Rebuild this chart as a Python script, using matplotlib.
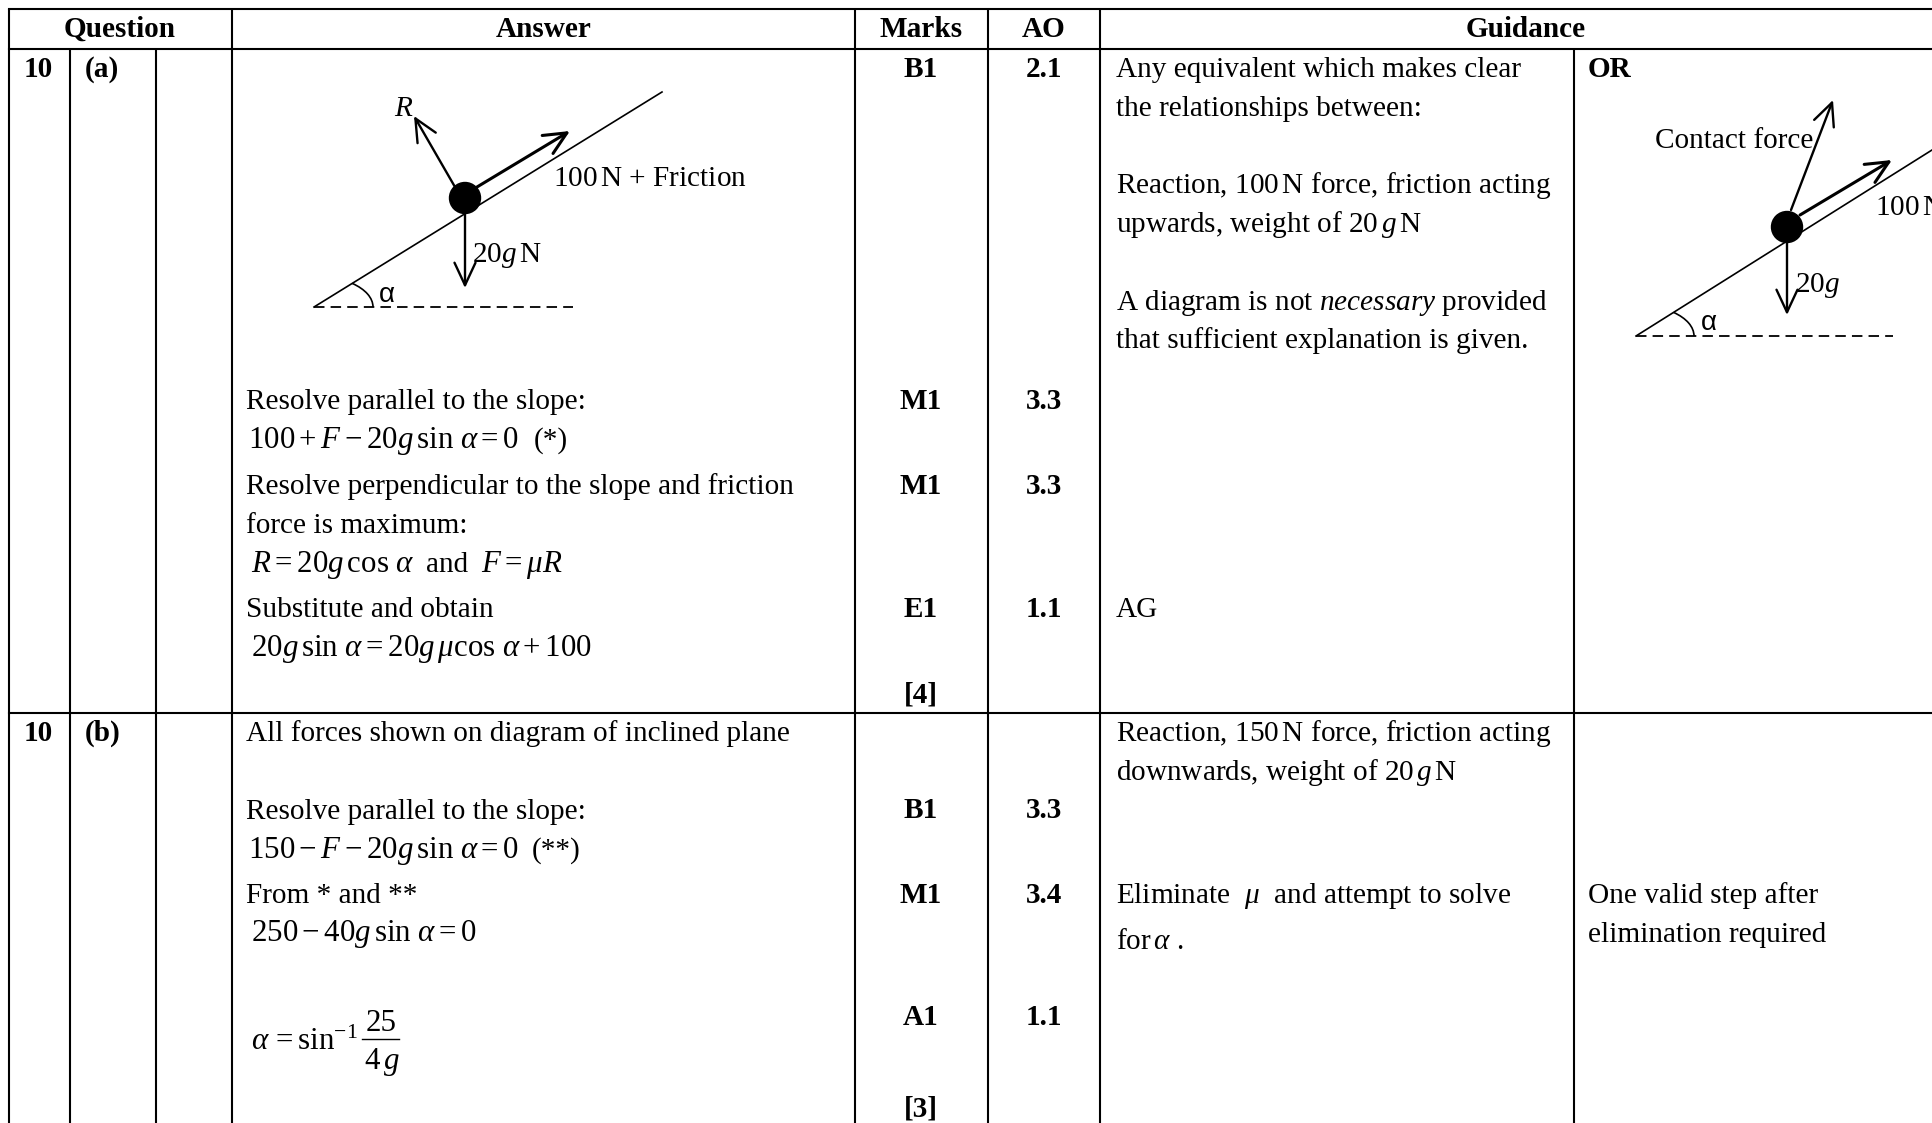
import numpy as np
import matplotlib
matplotlib.use("Agg")
import matplotlib.pyplot as plt
from matplotlib.patches import Arc, Circle

plt.rcParams['font.family'] = ['Liberation Serif', 'DejaVu Serif']
plt.rcParams['mathtext.fontset'] = 'custom'
plt.rcParams['mathtext.rm'] = 'Liberation Serif'
plt.rcParams['mathtext.it'] = 'Liberation Serif:italic'
plt.rcParams['mathtext.bf'] = 'Liberation Serif:bold'
plt.rcParams['mathtext.fallback'] = 'stix'

# table text
headers = ['Question', 'Answer', 'Marks', 'AO', 'Guidance']
question = ['10', '10']
parts = ['(a)', '(b)']
marks = ['B1', 'M1', 'M1', 'E1', '[4]', 'B1', 'M1', 'A1', '[3]']
ao = ['2.1', '3.3', '3.3', '1.1', '3.3', '3.4', '1.1']

answer_lines = [
    'Resolve parallel to the slope:',
    '(*)',
    'Resolve perpendicular to the slope and friction',
    'force is maximum:',
    'and',
    'Substitute and obtain',
    'All forces shown on diagram of inclined plane',
    'Resolve parallel to the slope:',
    '(**)',
    'From * and **',
]
answer_math = [
    r'$100+F-20g\,\sin\,\alpha=0$',
    r'$R=20g\,\cos\,\alpha$',
    r'$F=\mu R$',
    r'$20g\,\sin\,\alpha=20g\,\mu\cos\,\alpha+100$',
    r'$150-F-20g\,\sin\,\alpha=0$',
    r'$250-40g\,\sin\,\alpha=0$',
    r'$\alpha\,=\sin^{-1}$',
    '25',
    r'$4\,g$',
]
guidance_lines = [
    'Any equivalent which makes clear',
    'the relationships between:',
    r'Reaction, 100$\,$N force, friction acting',
    r'upwards, weight of 20$\,g\,$N',
    r'A diagram is not $\mathit{necessary}$ provided',
    'that sufficient explanation is given.',
    'AG',
    r'Reaction, 150$\,$N force, friction acting',
    r'downwards, weight of 20$\,g\,$N',
    r'Eliminate  $\mu$  and attempt to solve',
    r'for$\,\alpha$ .',
]
extra_lines = ['One valid step after', 'elimination required']

# layout in pixels of the 1932x1123 page
col_x = [9, 70, 156, 232, 855, 988, 1100, 1574]
row_y = [9, 49, 713]
header_x = [120, 544, 921, 1044, 1526]
q_y = [77, 741]
marks_y = [77, 409, 494, 617, 702, 818, 903, 1025, 1116]
ao_y = [77, 409, 494, 617, 818, 903, 1025]
answer_x = [246, 534, 246, 246, 426, 246, 246, 246, 532, 246]
answer_y = [409, 448, 494, 533, 572, 617, 741, 819, 858, 903]
math_x = [248, 251, 481, 251, 248, 251, 251, 366, 364]
math_y = [448, 572, 572, 656, 858, 941, 1050, 1031, 1069]
guidance_y = [77, 116, 193, 232, 310, 348, 617, 741, 780, 903, 949]
extra_y = [903, 942]

FS = 21.1
MATH_FS = 22.3

fig = plt.figure(figsize=(19.32, 11.23), dpi=100)
ax = fig.add_axes([0, 0, 1, 1])
ax.set_xlim(0, 1932)
ax.set_ylim(1123, 0)
ax.axis('off')


def txt(x, y, s, **kw):
    kw.setdefault('fontsize', FS)
    kw.setdefault('va', 'baseline')
    ax.text(x, y, s, color='black', **kw)


def arrow(p0, p1, lw=1.7):
    ax.annotate('', xy=p1, xytext=p0,
                arrowprops=dict(arrowstyle='->,head_length=0.9,head_width=0.42',
                                mutation_scale=18, lw=lw, color='black',
                                shrinkA=0, shrinkB=0))


def incline(base, top, dash_end, disk, normal_end, along, weight, arc_r):
    ax.plot([base[0], top[0]], [base[1], top[1]], color='black', lw=1.2)
    ax.plot([base[0], dash_end], [base[1], base[1]], color='black', lw=1.3, dashes=(5.8, 3.4))
    ax.add_patch(Circle(disk, 15.5, color='black', zorder=3))
    arrow(normal_end[0], normal_end[1])
    arrow(along[0], along[1], lw=2.2)
    arrow((disk[0], disk[1] + 15), (disk[0], weight))
    angle = np.degrees(np.arctan2(base[1] - top[1], top[0] - base[0]))
    ax.add_patch(Arc(base, 2 * arc_r, 62, theta1=-angle, theta2=0, color='black', lw=1.2))


# table rules
for y in row_y:
    ax.plot([col_x[0], 1932], [y, y], color='black', lw=1.5, solid_capstyle='projecting')
for x in col_x:
    start = row_y[1] if x in (70, 156, 1574) else row_y[0]
    ax.plot([x, x], [start, 1123], color='black', lw=1.5, solid_capstyle='butt')

for x, s in zip(header_x, headers):
    txt(x, 37, s, ha='center', fontweight='bold')
for y, q, p in zip(q_y, question, parts):
    txt(38, y, q, ha='center', fontweight='bold')
    txt(85, y, p, fontweight='bold')
for y, s in zip(marks_y, marks):
    txt(921, y, s, ha='center', fontweight='bold')
for y, s in zip(ao_y, ao):
    txt(1044, y, s, ha='center', fontweight='bold')
for x, y, s in zip(answer_x, answer_y, answer_lines):
    txt(x, y, s)
for x, y, s in zip(math_x, math_y, answer_math):
    txt(x, y, s, fontsize=MATH_FS)
ax.plot([362, 399], [1039, 1039], color='black', lw=1.0)
for y, s in zip(guidance_y, guidance_lines):
    txt(1116, y, s)
txt(1588, 77, 'OR', fontweight='bold')
for y, s in zip(extra_y, extra_lines):
    txt(1588, y, s)

# left diagram
incline((314, 307), (662, 92), 573, (465, 198),
        ((455, 187), (414, 116)), ((477, 187), (570, 131)), 288, 59)
txt(394, 116, 'R', style='italic')
txt(553, 186, r'100$\,$N + Friction')
txt(472, 262, r'20$g\,$N')
txt(379, 302, 'α', family='Liberation Sans', fontsize=20)

# right diagram
incline((1636, 336), (1932, 150), 1893, (1787, 227),
        ((1791, 210), (1833, 100)), ((1800, 215), (1892, 160)), 315, 58)
txt(1655, 148, 'Contact force')
txt(1875, 215, r'100$\,$N + Friction', clip_on=True)
txt(1795, 292, r'20$g$')
txt(1701, 330, 'α', family='Liberation Sans', fontsize=20)

fig.savefig('out.png', dpi=100)
